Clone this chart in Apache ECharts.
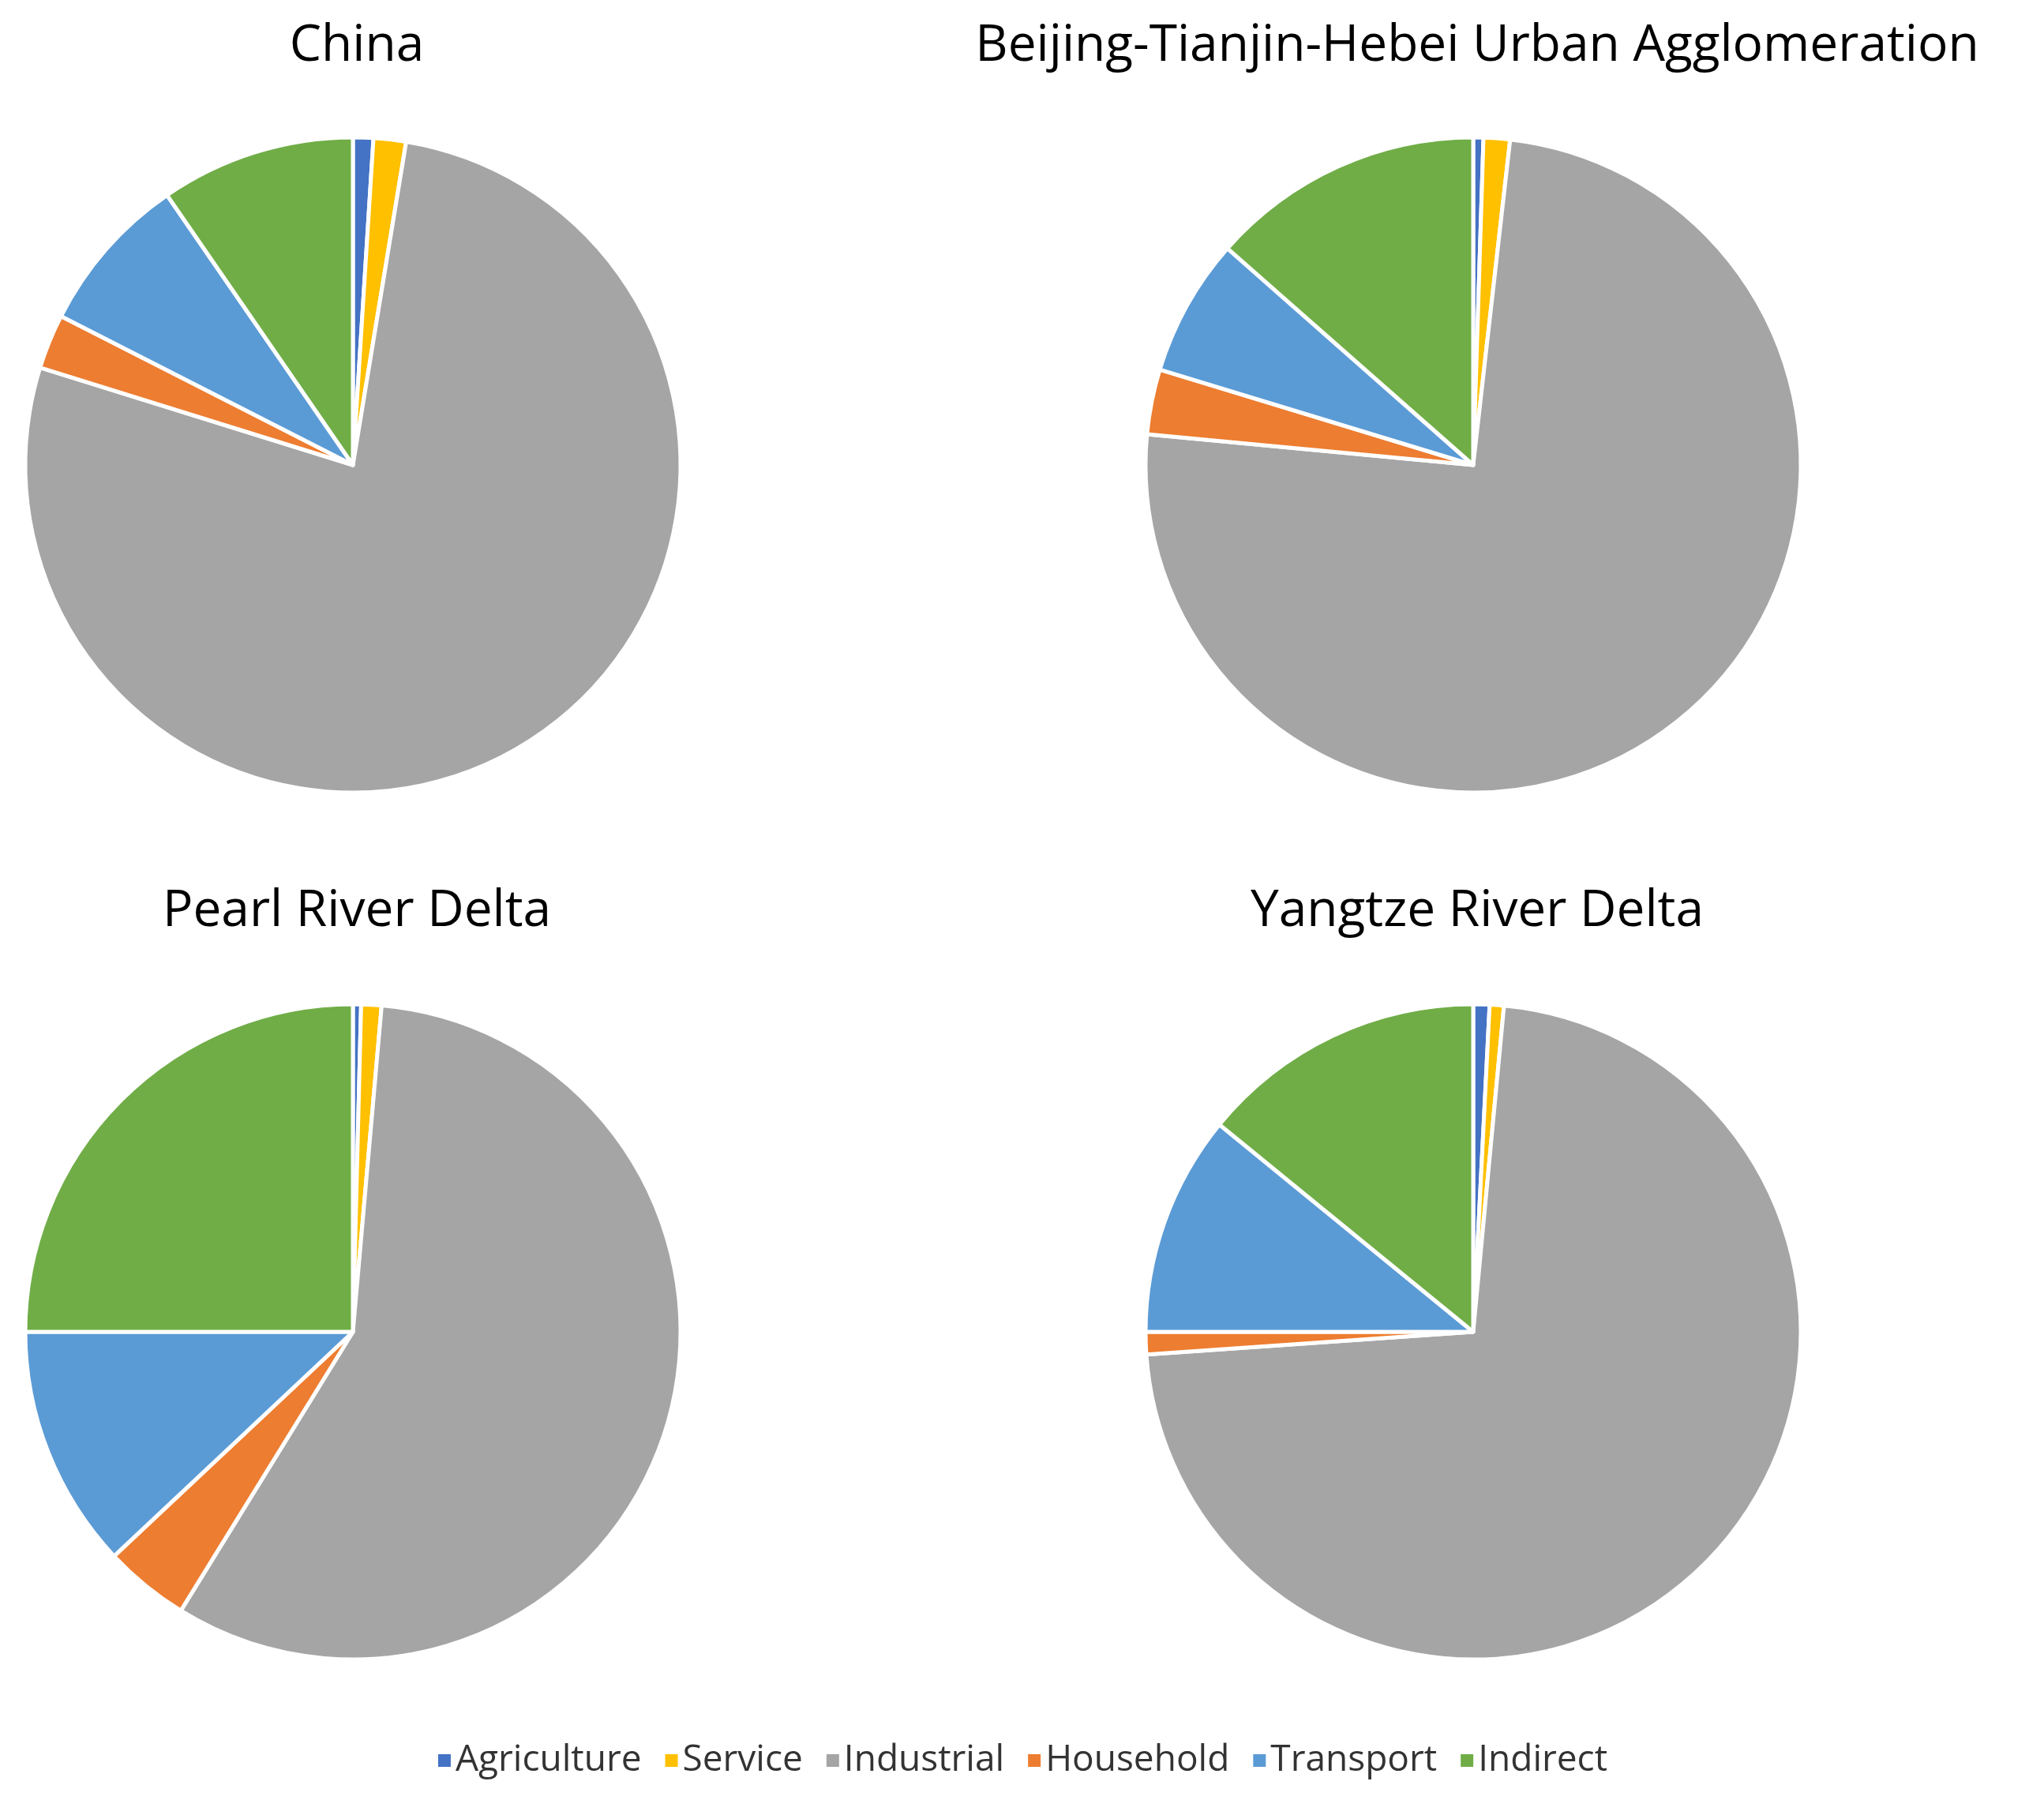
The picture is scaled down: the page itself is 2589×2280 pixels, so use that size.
<!DOCTYPE html>
<html>
<head>
<meta charset="utf-8">
<script src="https://cdn.jsdelivr.net/npm/echarts@6/dist/echarts.min.js"></script>
<style>html,body{margin:0;padding:0;background:#fff}#main{width:2589px;height:2280px}</style>
</head>
<body>
<div id="main"></div>
<script>
// sector categories and shares (%)
var categories = ['Agriculture', 'Service', 'Industrial', 'Household', 'Transport', 'Indirect'];
var colors = ['#4472C4', '#FFC000', '#A5A5A5', '#ED7D31', '#5B9BD5', '#70AD47'];
var regions = ['China', 'Beijing-Tianjin-Hebei Urban Agglomeration', 'Pearl River Delta', 'Yangtze River Delta'];
var chinaValues = [1.0, 1.6, 77.2, 2.7, 7.9, 9.6];
var bthValues = [0.5, 1.3, 74.7, 3.2, 6.8, 13.5];
var prdValues = [0.4, 1.0, 57.4, 4.2, 12.0, 25.0];
var yrdValues = [0.8, 0.7, 72.4, 1.1, 10.9, 14.1];
var allValues = [chinaValues, bthValues, prdValues, yrdValues];

var centers = [[447, 589], [1866, 589], [447, 1687], [1866, 1687]];
var titleTops = [22, 22, 1118, 1118];

var chart = echarts.init(document.getElementById('main'));
var font = '"Open Sans", "Liberation Sans", sans-serif';

var titles = regions.map(function (r, i) {
  return {
    text: r, left: centers[i][0], top: titleTops[i], textAlign: 'center',
    textStyle: { fontFamily: font, fontSize: 64, fontWeight: 'normal', color: '#000' }
  };
});

var series = allValues.map(function (vals, i) {
  return {
    type: 'pie', center: centers[i], radius: 415, startAngle: 90, clockwise: true,
    label: { show: false }, labelLine: { show: false }, silent: true,
    itemStyle: { borderColor: '#fff', borderWidth: 5 },
    data: categories.map(function (c, j) { return { name: c, value: vals[j] }; })
  };
});

chart.setOption({
  animation: false,
  color: colors,
  title: titles,
  legend: {
    data: categories, bottom: 22, left: 'center', icon: 'rect',
    itemWidth: 18, itemHeight: 18, itemGap: 28,
    textStyle: { fontFamily: font, fontSize: 46, color: '#333' }
  },
  series: series
});
</script>
</body>
</html>
